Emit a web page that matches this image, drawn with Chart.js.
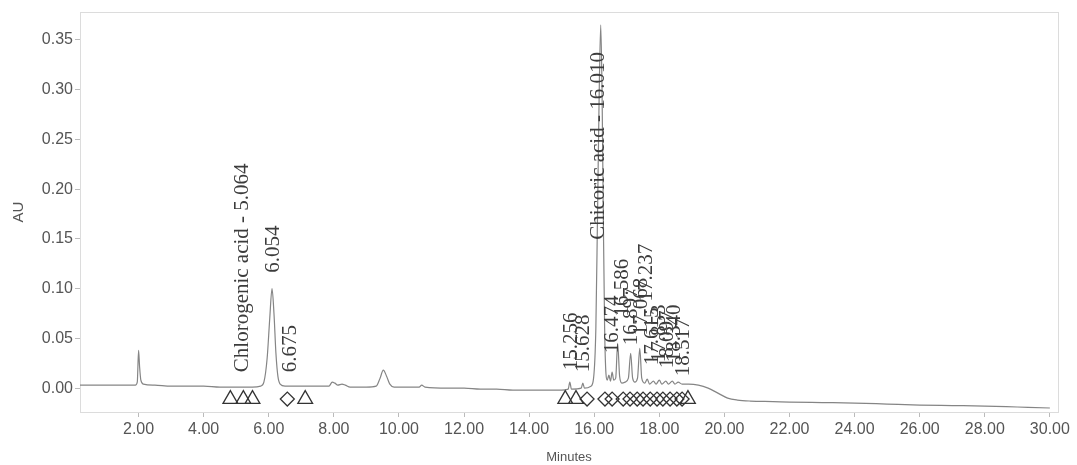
<!DOCTYPE html>
<html>
<head>
<meta charset="utf-8">
<script src="https://cdn.jsdelivr.net/npm/chart.js@4.4.1/dist/chart.umd.min.js"></script>
<style>
  html, body { margin: 0; padding: 0; background: #fff; }
  #wrap { width: 1077px; height: 465px; }
</style>
</head>
<body>
<div id="wrap"><canvas id="chrom" width="1077" height="465"></canvas></div>
<script>
// Trace (minutes, AU)
const traceTime = [0.05, 0.5, 1.0, 1.5, 1.9, 1.96, 2.0, 2.03, 2.07, 2.15, 2.5, 3.0, 3.5, 4.0, 4.5, 5.0, 5.5, 5.75,
  5.85, 5.95, 6.03, 6.1, 6.16, 6.22, 6.28, 6.35, 6.5, 7.0, 7.5, 7.85, 7.95, 8.03, 8.12, 8.25, 8.35, 8.5,
  9.0, 9.3, 9.42, 9.52, 9.62, 9.72, 9.85, 10.4, 10.62, 10.7, 10.8, 11.5, 12.0, 12.5, 13.0, 13.5, 14.0, 14.5,
  15.0, 15.2, 15.25, 15.3, 15.6, 15.65, 15.7, 15.9, 15.98, 16.05, 16.1, 16.15, 16.2, 16.24, 16.28, 16.32,
  16.36, 16.4, 16.45, 16.5, 16.55, 16.6, 16.66, 16.72, 16.78, 16.85, 16.95, 17.05, 17.12, 17.18, 17.25,
  17.33, 17.4, 17.46, 17.55, 17.63, 17.7, 17.82, 17.9, 18.0, 18.08, 18.2, 18.28, 18.4, 18.48, 18.58, 18.7,
  18.9, 19.2, 19.5, 19.8, 20.1, 20.4, 20.8, 21.5, 22, 23, 24, 25, 26, 27, 28, 29, 30];
const traceAU = [0.003, 0.003, 0.003, 0.003, 0.003, 0.006, 0.038, 0.022, 0.008, 0.004, 0.003, 0.002, 0.002, 0.002, 0.001, 0.001, 0.001, 0.002,
  0.006, 0.03, 0.07, 0.100, 0.075, 0.035, 0.012, 0.004, 0.002, 0.002, 0.002, 0.002, 0.006, 0.005, 0.003, 0.004, 0.003, 0.001,
  0.001, 0.002, 0.01, 0.018, 0.012, 0.004, 0.001, 0.001, 0.001, 0.003, 0.001, 0.0, 0.0, -0.001, -0.001, -0.002, -0.002, -0.002,
  -0.002, -0.001, 0.006, -0.001, 0.0, 0.005, 0.0, 0.002, 0.01, 0.06, 0.17, 0.29, 0.365, 0.3, 0.17, 0.06,
  0.015, 0.008, 0.013, 0.007, 0.016, 0.008, 0.01, 0.045, 0.012, 0.005, 0.006, 0.01, 0.035, 0.01, 0.006,
  0.01, 0.04, 0.01, 0.005, 0.009, 0.004, 0.007, 0.004, 0.008, 0.004, 0.007, 0.004, 0.007, 0.004, 0.006, 0.004,
  0.004, 0.003, 0.0, -0.005, -0.010, -0.012, -0.013, -0.0135, -0.014, -0.0145, -0.015, -0.016, -0.017, -0.0175, -0.018, -0.019, -0.020];

// Integration marks on the baseline (minutes)
const triangleTimes = [4.82, 5.22, 5.5, 7.12, 15.11, 15.44, 18.88];
const diamondTimes = [6.57, 15.78, 16.33, 16.55, 16.89, 17.1, 17.32, 17.5, 17.72, 17.93, 18.11, 18.33, 18.54, 18.7];
const markLevel = -0.011;

// Peak names as printed
const peakNames = ['Chlorogenic acid - 5.064', '6.054', '6.675', '15.256', '15.628', 'Chicoric acid - 16.010',
  '16.474', '16.586', '16.897', '17.068', '17.237', '17.615', '17.853', '18.097', '18.340', '18.517'];
const peakNameTimes = [5.19, 6.14, 6.66, 15.29, 15.66, 16.12, 16.55, 16.86, 17.16, 17.44, 17.62, 17.78, 18.02, 18.24, 18.48, 18.73];

// Axis ticks
const xTicks = [2, 4, 6, 8, 10, 12, 14, 16, 18, 20, 22, 24, 26, 28, 30];
const yTicks = [0, 0.05, 0.10, 0.15, 0.20, 0.25, 0.30, 0.35];

// where the bottom of each rotated label sits, in AU
const labelBase = [0.016, 0.116, 0.016, 0.018, 0.016, 0.149, 0.035, 0.072, 0.043, 0.053, 0.087, 0.023, 0.026, 0.02, 0.026, 0.012];

const tracePoints = traceTime.map((t, i) => ({ x: t, y: traceAU[i] }));
const triPoints = triangleTimes.map(t => ({ x: t, y: markLevel }));
const diaPoints = diamondTimes.map(t => ({ x: t, y: markLevel }));

const frameAndLabels = {
    id: 'frameAndLabels',
    beforeDatasetsDraw(chart) {
        const { ctx, chartArea: a } = chart;
        ctx.save();
        ctx.strokeStyle = '#dcdcdc';
        ctx.lineWidth = 1;
        ctx.strokeRect(a.left + 0.5, a.top + 0.5, a.right - a.left, a.bottom - a.top);
        ctx.restore();
    },
    afterDatasetsDraw(chart) {
        const { ctx, scales } = chart;
        ctx.save();
        ctx.fillStyle = '#3c3c3c';
        ctx.font = '21px "Liberation Serif", "DejaVu Serif", serif';
        ctx.textAlign = 'left';
        ctx.textBaseline = 'middle';
        peakNames.forEach((name, i) => {
            const x = scales.x.getPixelForValue(peakNameTimes[i]);
            const y = scales.y.getPixelForValue(labelBase[i]);
            ctx.save();
            ctx.translate(x, y);
            ctx.rotate(-Math.PI / 2);
            ctx.fillText(name, 0, 0);
            ctx.restore();
        });
        ctx.restore();
    }
};

const axisFont = { family: '"Liberation Sans", Arial, sans-serif', size: 16 };

new Chart(document.getElementById('chrom'), {
    type: 'scatter',
    data: {
        datasets: [
            {
                data: tracePoints,
                showLine: true,
                borderColor: '#858585',
                borderWidth: 1.2,
                pointRadius: 0,
                cubicInterpolationMode: 'monotone',
                order: 2
            },
            {
                data: triPoints,
                pointStyle: 'triangle',
                pointRadius: 8.5,
                borderColor: '#333',
                backgroundColor: 'rgba(255,255,255,0)',
                borderWidth: 1.3,
                order: 1
            },
            {
                data: diaPoints,
                pointStyle: 'rectRot',
                pointRadius: 7,
                borderColor: '#333',
                backgroundColor: 'rgba(255,255,255,0)',
                borderWidth: 1.3,
                order: 1
            }
        ]
    },
    options: {
        responsive: false,
        animation: false,
        devicePixelRatio: 1,
        layout: { padding: { left: 0, right: 19, top: 12, bottom: 0 } },
        plugins: {
            legend: { display: false },
            tooltip: { enabled: false }
        },
        scales: {
            x: {
                type: 'linear',
                min: 0.2,
                max: 30.25,
                afterBuildTicks: scale => { scale.ticks = xTicks.map(v => ({ value: v })); },
                afterFit: scale => { scale.height = 53; },
                ticks: {
                    callback: v => v.toFixed(2),
                    font: axisFont,
                    color: '#555',
                    padding: 3,
                    maxRotation: 0
                },
                grid: { drawOnChartArea: false, drawTicks: true, tickLength: 5, color: '#bbb' },
                border: { color: '#c8c8c8' },
                title: {
                    display: true,
                    text: 'Minutes',
                    font: { family: '"Liberation Sans", Arial, sans-serif', size: 13 },
                    color: '#555',
                    padding: { top: 0, bottom: 0 }
                }
            },
            y: {
                min: -0.024,
                max: 0.378,
                afterBuildTicks: scale => { scale.ticks = yTicks.map(v => ({ value: v })); },
                afterFit: scale => { scale.width = 80; },
                ticks: {
                    callback: v => v.toFixed(2),
                    font: axisFont,
                    color: '#555',
                    padding: 2
                },
                grid: { drawOnChartArea: false, drawTicks: true, tickLength: 5, color: '#bbb' },
                border: { color: '#c8c8c8' },
                title: {
                    display: true,
                    text: 'AU',
                    font: { family: '"Liberation Sans", Arial, sans-serif', size: 15 },
                    color: '#555',
                    padding: { top: 10, bottom: 0 }
                }
            }
        }
    },
    plugins: [frameAndLabels]
});
</script>
</body>
</html>
